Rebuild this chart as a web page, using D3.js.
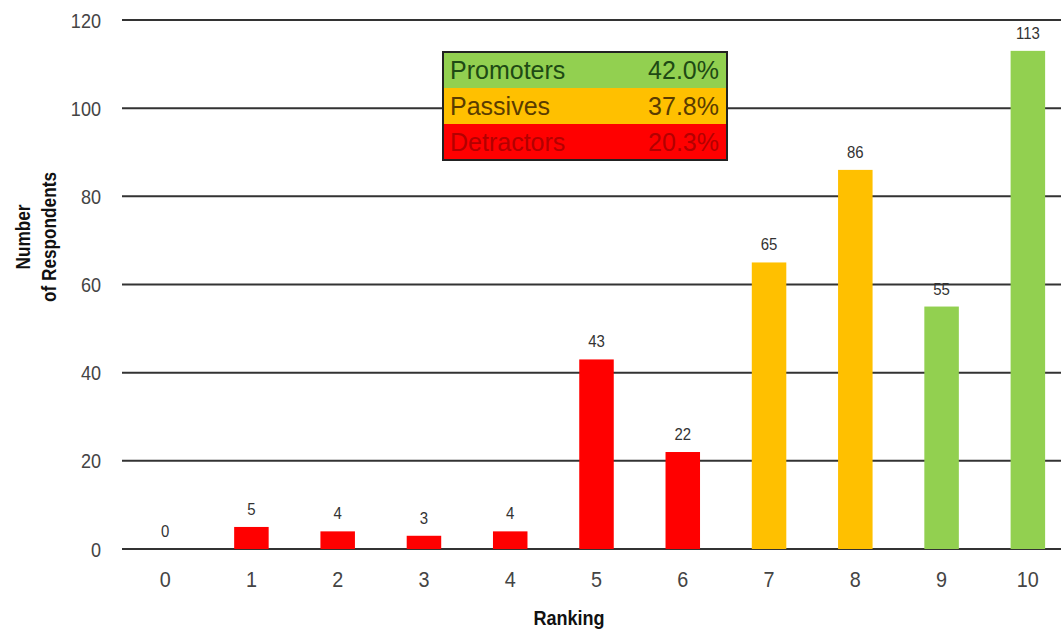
<!DOCTYPE html>
<html>
<head>
<meta charset="utf-8">
<script src="https://cdn.jsdelivr.net/npm/d3@7"></script>
<style>
  body { margin: 0; background: #fff; }
  .tickLabel { font-family: "Liberation Sans", Arial, sans-serif; fill: #444; }
  .axisTitle { font-family: "Liberation Sans", Arial, sans-serif; font-weight: bold; fill: #111; }
</style>
</head>
<body>
<div class="svgContainer"></div>
<script>
/* chart data */
var rankings = ["0", "1", "2", "3", "4", "5", "6", "7", "8", "9", "10"];
var respondents = [0, 5, 4, 3, 4, 43, 22, 65, 86, 55, 113];
var groups = ["Detractors", "Detractors", "Detractors", "Detractors", "Detractors", "Detractors", "Detractors",
              "Passives", "Passives", "Promoters", "Promoters"];
var yTicks = [0, 20, 40, 60, 80, 100, 120];

/* legend table */
var legendNames = ["Promoters", "Passives", "Detractors"];
var legendShares = ["42.0%", "37.8%", "20.3%"];

var groupColor = { Promoters: "#92d050", Passives: "#ffc000", Detractors: "#ff0000" };
var groupText = { Promoters: "#1e4a14", Passives: "#5a3c00", Detractors: "#b30000" };

var canvas_width = 1061,
    canvas_height = 630;

/* the original text is a bit condensed, squeeze it horizontally */
function squeeze(x, y, s) {
  return "translate(" + x + "," + y + ") scale(" + s + ",1)";
}

var svg = d3.select(".svgContainer")
  .append("svg")
    .attr("width", canvas_width)
    .attr("height", canvas_height);

/* scales */
var x = d3.scaleBand()
    .domain(rankings)
    .range([122, 1071])
    .paddingInner(0.6)
    .paddingOuter(0.3);

var y = d3.scaleLinear()
    .domain([0, 120])
    .range([549, 20]);

/* horizontal grid lines */
svg.append("g")
  .selectAll("line")
  .data(yTicks)
  .enter()
    .append("line")
      .attr("x1", 122)
      .attr("x2", canvas_width)
      .attr("y1", function(d) { return y(d); })
      .attr("y2", function(d) { return y(d); })
      .attr("stroke", "#333")
      .attr("stroke-width", 2);

/* y tick labels */
svg.append("g")
  .selectAll("text")
  .data(yTicks)
  .enter()
    .append("text")
      .attr("class", "tickLabel")
      .attr("transform", function(d) { return squeeze(101, y(d) + 7.5, 0.86); })
      .attr("text-anchor", "end")
      .style("font-size", "21px")
      .text(function(d) { return d; });

/* bars */
svg.append("g")
  .selectAll("rect")
  .data(respondents)
  .enter()
    .append("rect")
      .attr("x", function(d, i) { return x(rankings[i]); })
      .attr("y", function(d) { return y(d); })
      .attr("width", x.bandwidth())
      .attr("height", function(d) { return y(0) - y(d); })
      .attr("fill", function(d, i) { return groupColor[groups[i]]; });

/* value labels above bars */
svg.append("g")
  .selectAll("text")
  .data(respondents)
  .enter()
    .append("text")
      .attr("class", "tickLabel")
      .attr("transform", function(d, i) {
        return squeeze(x(rankings[i]) + x.bandwidth() / 2, y(d) - 12, 0.88);
      })
      .attr("text-anchor", "middle")
      .style("font-size", "17px")
      .style("fill", "#333")
      .text(function(d) { return d; });

/* x tick labels */
svg.append("g")
  .selectAll("text")
  .data(rankings)
  .enter()
    .append("text")
      .attr("class", "tickLabel")
      .attr("transform", function(d) { return squeeze(x(d) + x.bandwidth() / 2, 587, 0.9); })
      .attr("text-anchor", "middle")
      .style("font-size", "22px")
      .text(function(d) { return d; });

/* axis titles */
svg.append("text")
  .attr("class", "axisTitle")
  .attr("transform", squeeze(569, 625, 0.86))
  .attr("text-anchor", "middle")
  .style("font-size", "21px")
  .text("Ranking");

var yTitle = svg.append("text")
  .attr("class", "axisTitle")
  .attr("transform", "translate(30, 237) rotate(-90) scale(0.86,1)")
  .attr("text-anchor", "middle")
  .style("font-size", "20px");
yTitle.append("tspan").attr("x", 0).attr("dy", 0).text("Number");
yTitle.append("tspan").attr("x", 0).attr("dy", 26).text("of Respondents");

/* legend table */
var legend = svg.append("g")
  .attr("transform", "translate(443, 52)");
var rowH = 36;

legend.selectAll("rect")
  .data(legendNames)
  .enter()
    .append("rect")
      .attr("x", 0)
      .attr("y", function(d, i) { return i * rowH; })
      .attr("width", 284)
      .attr("height", rowH)
      .attr("fill", function(d) { return groupColor[d]; });

legend.append("rect")
  .attr("width", 284)
  .attr("height", rowH * 3)
  .attr("fill", "none")
  .attr("stroke", "#222")
  .attr("stroke-width", 2);

legend.selectAll("text.name")
  .data(legendNames)
  .enter()
    .append("text")
      .attr("class", "name")
      .attr("x", 7)
      .attr("y", function(d, i) { return i * rowH + 27; })
      .style("font-family", "Liberation Sans, Arial, sans-serif")
      .style("font-size", "25px")
      .style("fill", function(d) { return groupText[d]; })
      .text(function(d) { return d; });

legend.selectAll("text.share")
  .data(legendShares)
  .enter()
    .append("text")
      .attr("class", "share")
      .attr("x", 276)
      .attr("y", function(d, i) { return i * rowH + 27; })
      .attr("text-anchor", "end")
      .style("font-family", "Liberation Sans, Arial, sans-serif")
      .style("font-size", "25px")
      .style("fill", function(d, i) { return groupText[legendNames[i]]; })
      .text(function(d) { return d; });
</script>
</body>
</html>
